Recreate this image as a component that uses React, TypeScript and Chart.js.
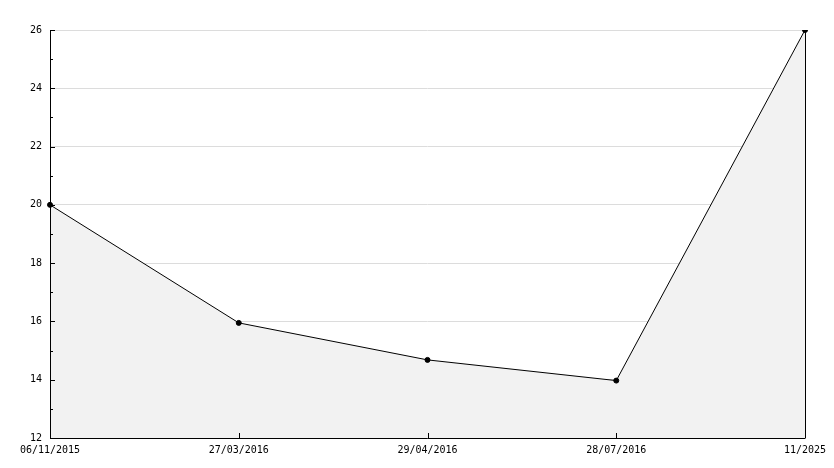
import React, { useEffect, useRef } from "react";
import { Chart, registerables } from "chart.js";

Chart.register(...registerables);

const categories = ["06/11/2015", "27/03/2016", "29/04/2016", "28/07/2016", "11/2025"];
const values = [20, 15.95, 14.68, 13.97, 26];
const yMin = 12;
const yMax = 26;
const yStep = 2;

const FONT = "'DejaVu Sans Mono', monospace";

const axisPlugin = {
  id: "axisPlugin",
  afterDatasetsDraw(chart: any) {
    const ctx = chart.ctx;
    const { left, right, top, bottom } = chart.chartArea;
    const y = chart.scales.y;
    const x = chart.scales.x;
    ctx.save();
    ctx.strokeStyle = "#000";
    ctx.lineWidth = 1;
    ctx.beginPath();
    // left axis
    ctx.moveTo(Math.round(left) + 0.5, top);
    ctx.lineTo(Math.round(left) + 0.5, bottom + 0.5);
    // bottom axis
    ctx.moveTo(left, Math.round(bottom) + 0.5);
    ctx.lineTo(right + 0.5, Math.round(bottom) + 0.5);
    // right edge of filled area
    const lastY = y.getPixelForValue(values[values.length - 1]);
    ctx.moveTo(Math.round(right) + 0.5, lastY);
    ctx.lineTo(Math.round(right) + 0.5, bottom);
    // y ticks: major and minor, inside
    for (let v = yMin; v <= yMax; v += yStep / 2) {
      const py = Math.round(y.getPixelForValue(v)) + 0.5;
      const major = (v - yMin) % yStep === 0;
      ctx.moveTo(left, py);
      ctx.lineTo(left + (major ? 5 : 3), py);
    }
    // x ticks inside
    for (let i = 1; i < categories.length - 1; i++) {
      const px = Math.round(x.getPixelForValue(i)) + 0.5;
      ctx.moveTo(px, bottom);
      ctx.lineTo(px, bottom - 5);
    }
    ctx.stroke();
    ctx.restore();
  },
};

export default function App() {
  const ref = useRef<HTMLCanvasElement>(null);
  useEffect(() => {
    document.body.style.margin = "0";
    const chart = new Chart(ref.current!, {
      type: "line",
      data: {
        labels: categories,
        datasets: [
          {
            data: values,
            borderColor: "#000",
            borderWidth: 1,
            backgroundColor: "#f2f2f2",
            fill: "start",
            tension: 0,
            pointRadius: 2.5,
            pointBackgroundColor: "#000",
            pointBorderColor: "#000",
            pointBorderWidth: 1,
          },
        ],
      },
      options: {
        animation: false,
        responsive: false,
        maintainAspectRatio: false,
        layout: { padding: { top: 30, right: 29, left: 0, bottom: 0 } },
        plugins: { legend: { display: false }, tooltip: { enabled: false } },
        scales: {
          x: {
            type: "category",
            offset: false,
            grid: { display: false, drawTicks: false },
            border: { display: false },
            ticks: {
              color: "#000",
              font: { family: FONT, size: 10 },
              maxRotation: 0,
              autoSkip: false,
              padding: 6,
            },
            afterFit(scale: any) {
              scale.height = 30;
            },
          },
          y: {
            min: yMin,
            max: yMax,
            grid: { color: "#dcdcdc", drawTicks: false },
            border: { display: false },
            ticks: {
              stepSize: yStep,
              color: "#000",
              font: { family: FONT, size: 10 },
              padding: 8,
            },
            afterFit(scale: any) {
              scale.width = 50;
            },
          },
        },
      },
      plugins: [axisPlugin],
    });
    return () => chart.destroy();
  }, []);
  return (
    <div style={{ position: "absolute", left: 0, top: 0, width: 834, height: 468 }}>
      <canvas ref={ref} width={834} height={468} style={{ width: 834, height: 468 }} />
    </div>
  );
}
